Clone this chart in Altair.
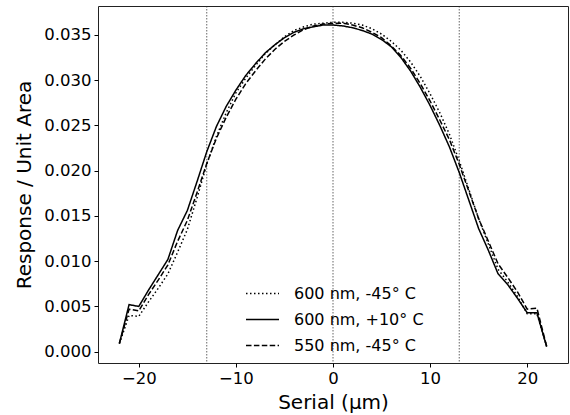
import altair as alt
import pandas as pd

serial = list(range(-22, 23))

labels = ["600 nm, -45° C", "600 nm, +10° C", "550 nm, -45° C"]

dotted_vals = [0.0009, 0.0040, 0.0039, 0.0055, 0.0070, 0.0086, 0.0110, 0.0135, 0.0170, 0.0207,
               0.0238, 0.0264, 0.0286, 0.0302, 0.0316, 0.0329, 0.0339, 0.0348, 0.0355, 0.0359,
               0.0362, 0.0363, 0.0364,
               0.0364, 0.0363, 0.0361, 0.0357, 0.0351, 0.0343, 0.0333, 0.0320, 0.0304, 0.0285,
               0.0264, 0.0240, 0.0211, 0.0179, 0.0147, 0.0119, 0.0091, 0.0077, 0.0061, 0.0042,
               0.0042, 0.0006]

solid_vals = [0.0009, 0.0052, 0.0050, 0.0068, 0.0085, 0.0102, 0.0134, 0.0156, 0.0188, 0.0221,
              0.0249, 0.0271, 0.0289, 0.0305, 0.0318, 0.0330, 0.0339, 0.0347, 0.0353, 0.0357,
              0.0359, 0.0361, 0.0361,
              0.0360, 0.0358, 0.0355, 0.0351, 0.0345, 0.0337, 0.0325, 0.0310, 0.0292, 0.0272,
              0.0250, 0.0226, 0.0198, 0.0167, 0.0136, 0.0112, 0.0086, 0.0074, 0.0059, 0.0043,
              0.0043, 0.00055]

dashed_vals = [0.0009, 0.0047, 0.0045, 0.0063, 0.0079, 0.0096, 0.0122, 0.0145, 0.0176, 0.0208,
               0.0236, 0.0259, 0.0279, 0.0296, 0.0310, 0.0323, 0.0334, 0.0343, 0.0350, 0.0356,
               0.0360, 0.0362, 0.0363,
               0.0363, 0.0361, 0.0358, 0.0353, 0.0347, 0.0338, 0.0327, 0.0313, 0.0296, 0.0277,
               0.0256, 0.0234, 0.0207, 0.0177, 0.0147, 0.0122, 0.0097, 0.0082, 0.0066, 0.0047,
               0.0048, 0.0006]

vlines = [-13, 0, 13]
x_ticks = [-20, -10, 0, 10, 20]
y_ticks = [0.0, 0.005, 0.010, 0.015, 0.020, 0.025, 0.030, 0.035]

rows = []
for lab, vals in zip(labels, [dotted_vals, solid_vals, dashed_vals]):
    for s, v in zip(serial, vals):
        rows.append({"serial": s, "resp": v, "series": lab})
df = pd.DataFrame(rows)

x_scale = alt.Scale(domain=[-24.2, 24.2], nice=False, zero=False)
y_scale = alt.Scale(domain=[-0.00125, 0.0382], nice=False, zero=False)

FONT = "DejaVu Sans"

rules = alt.Chart(pd.DataFrame({"x": vlines})).mark_rule(
    color="#222222", strokeWidth=0.7, strokeDash=[1.5, 1.5]
).encode(x=alt.X("x:Q", scale=x_scale))

lines = alt.Chart(df).mark_line(color="black", strokeWidth=1.5).encode(
    x=alt.X(
        "serial:Q", scale=x_scale,
        axis=alt.Axis(values=x_ticks, title="Serial (μm)", format="d",
                      titleX=235, titleY=45, titleBaseline="alphabetic", titleAlign="center"),
    ),
    y=alt.Y(
        "resp:Q", scale=y_scale,
        axis=alt.Axis(values=y_ticks, format=".3f", title="Response / Unit Area",
                      titleX=-74, titleY=178.5, titleAngle=-90, titleAlign="center",
                      titleBaseline="middle"),
    ),
    strokeDash=alt.StrokeDash(
        "series:N",
        scale=alt.Scale(domain=labels, range=[[1.5, 2.5], [1, 0], [5.5, 2.4]]),
        legend=alt.Legend(
            title=None, orient="none", legendX=147, legendY=270,
            symbolType="stroke", symbolSize=1089, symbolStrokeWidth=1.5,
            symbolStrokeColor="black", labelFont=FONT, labelFontSize=16,
            labelColor="black", labelOffset=14, padding=0, rowPadding=-1,
        ),
    ),
    detail="series:N",
    order="serial:Q",
)

chart = alt.layer(rules, lines).properties(
    width=470, height=357,
    autosize=alt.AutoSizeParams(type="none"),
    padding={"left": 98, "top": 6, "right": 2, "bottom": 52},
    background="white",
).configure_view(
    stroke="#222222", strokeWidth=1
).configure_axis(
    grid=False, domain=False, tickSize=4, tickColor="black", tickWidth=1,
    labelFont=FONT, labelFontSize=16.5, labelColor="black", labelPadding=3,
    titleFont=FONT, titleFontSize=20, titleColor="black", titleFontWeight="normal",
)

chart.save("out.html", embed_options={"renderer": "svg", "actions": False})
